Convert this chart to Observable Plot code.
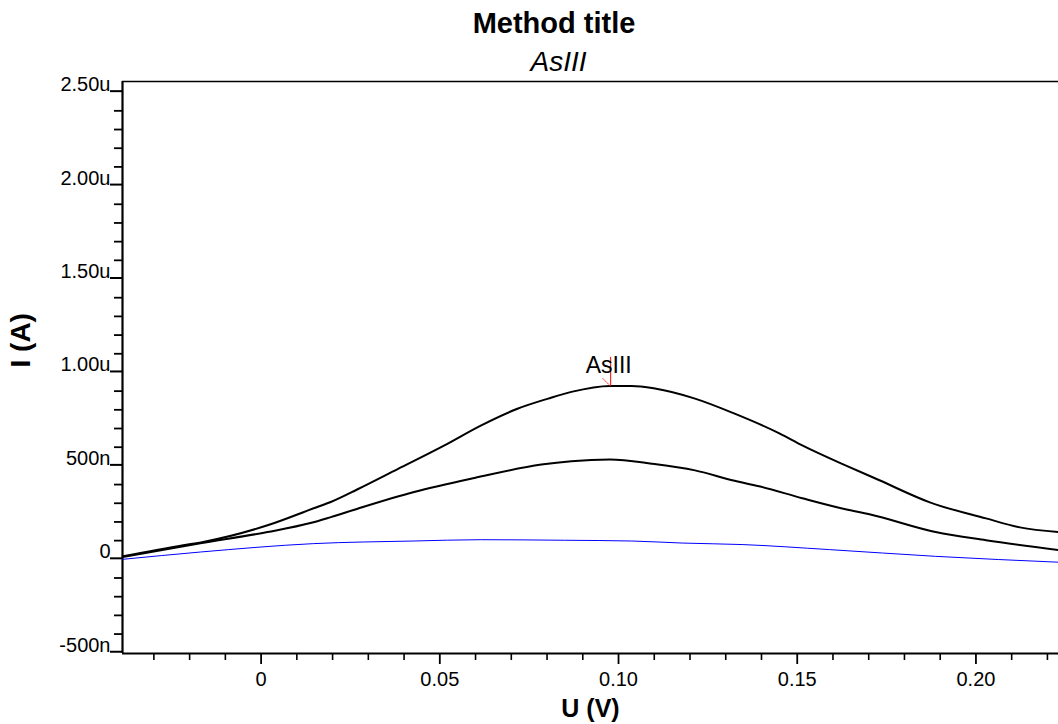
<!DOCTYPE html>
<html>
<head>
<meta charset="utf-8">
<script src="https://cdn.jsdelivr.net/npm/d3@7"></script>
<script src="https://cdn.jsdelivr.net/npm/@observablehq/plot@0.6"></script>
<style>
  body { margin: 0; background: #fff; font-family: "Liberation Sans", Arial, sans-serif; }
  #wrap { position: relative; width: 1058px; height: 724px; overflow: hidden; background: #fff; }
  #header { position: relative; height: 75px; }
  .t { position: absolute; left: 0; text-align: center; line-height: 1; white-space: nowrap; color: #000; }
  #title { top: 9px; width: 1108px; font-size: 29px; font-weight: bold; }
  #sub { top: 48px; width: 1117px; font-size: 28px; font-style: italic; }
  svg { overflow: visible; }
</style>
</head>
<body>
<div id="wrap">
  <div id="header">
    <div class="t" id="title">Method title</div>
    <div class="t" id="sub">AsIII</div>
  </div>
  <div id="chart"></div>
</div>
<script>
// ---- data (U in volts, I in nanoamperes) ----
const upperU = [-0.0387, -0.0218, -0.0162, 0.0018, 0.0147, 0.0195, 0.0270, 0.0382, 0.0513, 0.0616, 0.0719, 0.0803, 0.0868, 0.0976, 0.1037, 0.1102, 0.1214, 0.1318, 0.1450, 0.1514, 0.1635, 0.1730, 0.1871, 0.2028, 0.2123, 0.2238];
const upperI = [16, 75, 93, 182, 273, 307, 375, 483, 610, 717, 807, 860, 896, 928, 928, 914, 860, 785, 674, 610, 503, 423, 305, 219, 171, 145];

const lowerU = [-0.0387, -0.0170, 0.0018, 0.0138, 0.0195, 0.0270, 0.0428, 0.0597, 0.0784, 0.0868, 0.0976, 0.1093, 0.1214, 0.1318, 0.1393, 0.1514, 0.1635, 0.1702, 0.1887, 0.2028, 0.2238];
const lowerI = [12, 86, 146, 194, 226, 271, 360, 435, 507, 525, 534, 512, 476, 423, 391, 327, 268, 241, 146, 102, 48];

const blankU = [-0.0387, -0.0170, 0.0147, 0.0428, 0.0616, 0.0849, 0.1037, 0.1178, 0.1346, 0.1590, 0.1887, 0.2238];
const blankI = [0, 39, 84, 98, 105, 102, 98, 87, 79, 52, 16, -16];

const peakLabels = ["AsIII"];
const peakU = [0.0978];
const peakI = [926];

const xMajorTicks = [0, 0.05, 0.10, 0.15, 0.20];
const xTickLabels = ["0", "0.05", "0.10", "0.15", "0.20"];
const yMajorTicks = [-500, 0, 500, 1000, 1500, 2000, 2500];
const yTickLabels = ["-500n", "0", "500n", "1.00u", "1.50u", "2.00u", "2.50u"];

const xDomain = [-0.03878, 0.2231];
const yDomain = [-504, 2557];

// ---- derived tables ----
const toRows = (U, I) => U.map((u, k) => ({u, i: I[k]}));
const upper = toRows(upperU, upperI);
const lower = toRows(lowerU, lowerI);
const blank = toRows(blankU, blankI);
const peaks = peakLabels.map((label, k) => ({label, u: peakU[k], i: peakI[k]}));

const xMinor = d3.range(-3, 23).map(k => k / 100).filter(v => !xMajorTicks.some(m => Math.abs(m - v) < 1e-9));
const yMinor = d3.range(-5, 26).map(k => k * 100).filter(v => !yMajorTicks.includes(v));

const fmtX = v => xTickLabels[xMajorTicks.findIndex(m => Math.abs(m - v) < 1e-9)];
const fmtY = v => yTickLabels[yMajorTicks.indexOf(v)];

const chart = Plot.plot({
  width: 1058,
  height: 649,
  marginTop: 6,
  marginBottom: 71,
  marginLeft: 122,
  marginRight: 0,
  style: {fontFamily: '"Liberation Sans", Arial, sans-serif', fontSize: "20px", color: "#000", background: "#fff", overflow: "visible"},
  x: {domain: xDomain, label: null},
  y: {domain: yDomain, label: null},
  marks: [
    // frame lines
    Plot.ruleY([yDomain[1]], {stroke: "#000", strokeWidth: 1.3}),
    Plot.ruleY([yDomain[0]], {stroke: "#000", strokeWidth: 2.2}),
    Plot.ruleX([xDomain[0]], {stroke: "#000", strokeWidth: 2.2}),
    // axes
    Plot.axisY(yMinor, {anchor: "left", tickSize: 8, tickFormat: () => "", strokeWidth: 1.8, label: null}),
    Plot.axisY(yMajorTicks, {anchor: "left", tickSize: 12, tickPadding: 0, tickFormat: fmtY, strokeWidth: 2, lineAnchor: "bottom", dy: -1, fontSize: 20, fill: "#000", label: null}),
    Plot.axisX(xMinor, {anchor: "bottom", tickSize: 7, tickFormat: () => "", strokeWidth: 1.6, label: null}),
    Plot.axisX(xMajorTicks, {anchor: "bottom", tickSize: 11, tickPadding: 7, tickFormat: fmtX, strokeWidth: 1.8, fontSize: 20, fill: "#000", label: null}),
    // curves
    Plot.line(blank, {x: "u", y: "i", stroke: "#0000ff", strokeWidth: 1, curve: "monotone-x"}),
    Plot.line(lower, {x: "u", y: "i", stroke: "#000", strokeWidth: 2, curve: "monotone-x"}),
    Plot.line(upper, {x: "u", y: "i", stroke: "#000", strokeWidth: 2, curve: "monotone-x"}),
    // peak annotation
    Plot.ruleX(peaks, {x: "u", y1: "i", y2: d => d.i + 155, stroke: "#ff0000", strokeWidth: 1}),
    Plot.link(peaks, {x1: d => d.u - 0.00225, y1: d => d.i + 43, x2: "u", y2: "i", stroke: "#ff0000", strokeWidth: 1, strokeDasharray: "2,1"}),
    Plot.text(peaks, {x: "u", y: "i", text: "label", dy: -13, dx: -2, fontSize: 23, lineAnchor: "bottom", fill: "#000"}),
    // axis titles
    Plot.text(["U (V)"], {text: d => d, frameAnchor: "bottom", dy: 55, fontSize: 25, fontWeight: "bold", lineAnchor: "middle", fill: "#000"}),
    Plot.text(["I (A)"], {text: d => d, frameAnchor: "left", dx: -101, rotate: -90, fontSize: 28, fontWeight: "bold", lineAnchor: "middle", fill: "#000"})
  ]
});
document.getElementById("chart").appendChild(chart);
</script>
</body>
</html>
